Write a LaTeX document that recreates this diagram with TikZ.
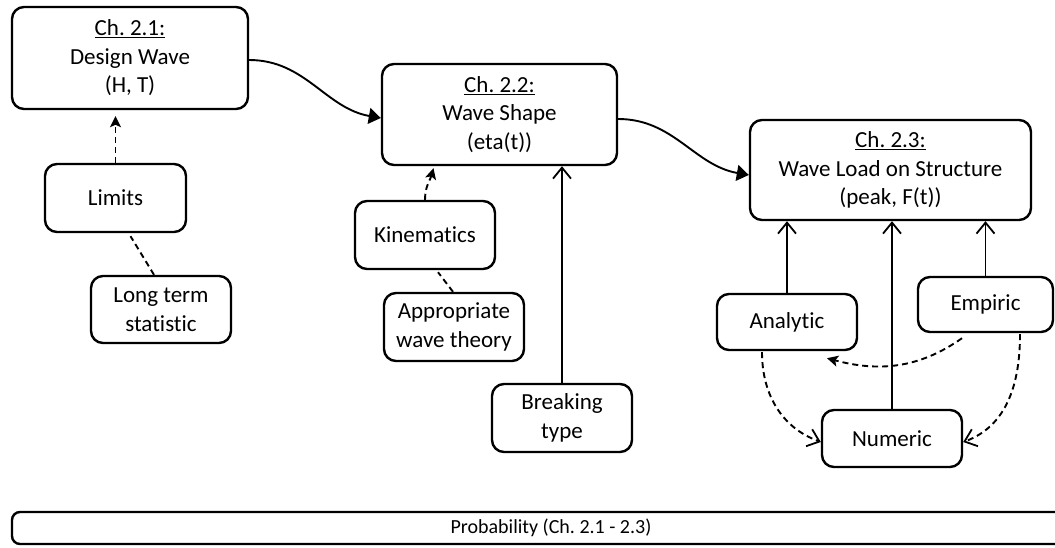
\documentclass[tikz,border=0pt]{standalone}
\usepackage{fontspec}
\setmainfont{Carlito}[Ligatures=NoCommon]
\usetikzlibrary{arrows.meta,calc}
\tikzset{
  box/.style={draw=black, line width=2.4pt, rounded corners=12pt, align=center, inner sep=0pt,
    font=\fontsize{23}{28.5}\selectfont},
  conn/.style={line width=1.9pt},
  dashpat/.style={dash pattern=on 6pt off 4pt},
  bigtip/.style={-{Triangle[length=12pt,width=16pt]}},
  opentip/.style={-{Straight Barb[length=11pt,width=18pt,line width=1.8pt]}},
  smalltip/.style={-{Stealth[length=11pt,width=11pt,inset=2.5pt]}}
}
\frenchspacing
\begin{document}
\begin{tikzpicture}[x=1pt,y=1pt]
\useasboundingbox (0,0) rectangle (1055,-547);
\clip (0,0) rectangle (1055,-547);
\fill[white] (0,0) rectangle (1055,-547);

\node[box, minimum width=236pt, minimum height=102pt] (dw) at (130,-58) {\underline{Ch. 2.1:}\\Design Wave\\(H, T)};
\node[box, minimum width=141pt, minimum height=68pt] (lim) at (115.5,-198) {Limits};
\node[box, minimum width=140pt, minimum height=67pt] (lt) at (161,-309.5) {Long term\\statistic};

\node[box, minimum width=235pt, minimum height=101pt] (ws) at (499.5,-114.5) {\underline{Ch. 2.2:}\\Wave Shape\\(eta(t))};
\node[box, minimum width=140pt, minimum height=68pt] (kin) at (425,-235) {Kinematics};
\node[box, minimum width=140pt, minimum height=68pt] (app) at (454,-327) {Appropriate\\wave theory};
\node[box, minimum width=140pt, minimum height=68pt] (brk) at (562,-418) {Breaking\\type};

\node[box, minimum width=281pt, minimum height=100pt] (wl) at (890.5,-170) {\underline{Ch. 2.3:}\\Wave Load on Structure\\(peak, F(t))};
\node[box, minimum width=140pt, minimum height=56pt] (an) at (787,-322) {Analytic};
\node[box, minimum width=135pt, minimum height=55pt] (emp) at (985.5,-304.5) {Empiric};
\node[box, minimum width=140pt, minimum height=57pt] (num) at (892,-438.5) {Numeric};

\node[box, rounded corners=8pt, minimum width=1078pt, minimum height=32pt,
  font=\fontsize{20}{24}\selectfont] (prob) at (551,-528) {Probability (Ch. 2.1 - 2.3)};

% main flow
\draw[conn, bigtip] ($(dw.east)+(0,-2)$) to[out=0,in=170] ($(ws.west)+(0,-3.5)$);
\draw[conn, bigtip] ($(ws.east)+(0,-4.5)$) to[out=0,in=170] ($(wl.west)+(0,-5)$);

% Ch 2.1 inputs
\draw[conn, dashpat, smalltip, shorten >=6pt] (lim.north) -- (lim.north |- dw.south);
\draw[conn, dashpat] ($(lt.north)+(-7,0)$) -- ($(lim.south)+(15,-3)$);

% Ch 2.2 inputs
\draw[conn, dashpat, smalltip, shorten >=2pt] (kin.north) to[out=90,in=-105] ($(ws.south)+(-65.5,0)$);
\draw[conn, dashpat] ($(app.north)+(-1,0)$) -- ($(kin.south)+(13,-2)$);
\draw[conn, opentip] (brk.north) -- (brk.north |- ws.south);

% Ch 2.3 inputs
\draw[conn, opentip] (an.north) -- (an.north |- wl.south);
\draw[conn, opentip] (num.north) -- (num.north |- wl.south);
\draw[conn, opentip] (emp.north) -- (emp.north |- wl.south);

\draw[conn, dashpat, smalltip] ($(emp.south)+(-23.5,-5)$) to[out=215,in=345] ($(an.south)+(40,-7)$);
\draw[conn, dashpat, opentip] ($(an.south)+(-25,-1)$) to[out=-90,in=160] ($(num.west)+(0,-3.5)$);
\draw[conn, dashpat, opentip] ($(emp.south)+(34.5,-1)$) to[out=-90,in=20] ($(num.east)+(0,-3.5)$);
\end{tikzpicture}
\end{document}
